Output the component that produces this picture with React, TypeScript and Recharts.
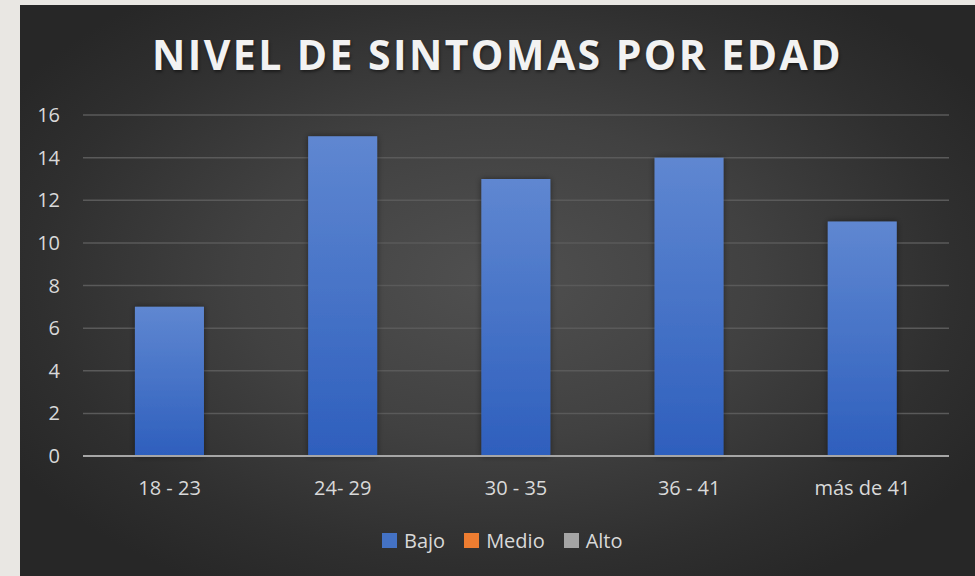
import React from 'react';
import { BarChart, Bar, XAxis, YAxis, CartesianGrid } from 'recharts';

const categories = ['18 - 23', '24- 29', '30 - 35', '36 - 41', 'más de 41'];
const bajoValues = [7, 15, 13, 14, 11];
const yTicks = [0, 2, 4, 6, 8, 10, 12, 14, 16];
const legendItems = [
  { name: 'Bajo', color: '#4472c4' },
  { name: 'Medio', color: '#ed7d31' },
  { name: 'Alto', color: '#a5a5a5' },
];

const data = categories.map((c, i) => ({ name: c, Bajo: bajoValues[i] }));

const font = '"Open Sans", sans-serif';

export default function App() {
  return (
    <div style={{ position: 'absolute', left: 0, top: 0, width: 975, height: 576, background: '#e9e7e3', overflow: 'hidden' }}>
      <div
        style={{
          position: 'absolute',
          left: 20,
          top: 5,
          width: 955,
          height: 571,
          background: 'radial-gradient(ellipse 60% 62% at 50% 48%, #505050 0%, #414141 45%, #2f2f2f 80%, #272727 100%)',
        }}
      >
        <div
          style={{
            position: 'absolute',
            top: 29,
            left: 0,
            width: 955,
            textAlign: 'center',
            fontFamily: font,
            fontWeight: 700,
            fontSize: 41,
            lineHeight: '41px',
            letterSpacing: 2.4,
            color: '#f2f2f2',
            textShadow: '1px 2px 3px rgba(0,0,0,0.45)',
          }}
        >
          NIVEL DE SINTOMAS POR EDAD
        </div>
        <BarChart
          width={955}
          height={571}
          data={data}
          margin={{ top: 110, right: 26, bottom: 90, left: 0 }}
          barCategoryGap="30%"
        >
          <defs>
            <linearGradient id="bajoGrad" x1="0" y1="0" x2="0" y2="1">
              <stop offset="0%" stopColor="#5f87d1" />
              <stop offset="100%" stopColor="#2e5fbd" />
            </linearGradient>
            <filter id="barShadow" x="-20%" y="-20%" width="140%" height="140%">
              <feDropShadow dx="0" dy="0" stdDeviation="3" floodColor="#000" floodOpacity="0.45" />
            </filter>
          </defs>
          <CartesianGrid vertical={false} stroke="#5a5a5a" strokeWidth={1.5} />
          <XAxis
            dataKey="name"
            height={30}
            axisLine={{ stroke: '#a6a6a6', strokeWidth: 2 }}
            tickLine={false}
            tickSize={0}
            tickMargin={25}
            tick={{ fill: '#d9d9d9', fontSize: 20, fontFamily: font }}
          />
          <YAxis
            width={63}
            domain={[0, 16]}
            ticks={yTicks}
            axisLine={false}
            tickLine={false}
            tickSize={0}
            tickMargin={23}
            tick={{ fill: '#d9d9d9', fontSize: 20, fontFamily: font }}
          />
          <Bar dataKey="Bajo" fill="url(#bajoGrad)" filter="url(#barShadow)" isAnimationActive={false} />
        </BarChart>
        <div
          style={{
            position: 'absolute',
            left: 362,
            top: 523,
            height: 24,
            display: 'flex',
            alignItems: 'center',
            fontFamily: font,
            fontSize: 20,
            color: '#d9d9d9',
          }}
        >
          {legendItems.map((it) => (
            <div key={it.name} style={{ display: 'flex', alignItems: 'center', marginRight: 19 }}>
              <div style={{ width: 15, height: 15, background: it.color, marginRight: 7 }} />
              <span>{it.name}</span>
            </div>
          ))}
        </div>
      </div>
    </div>
  );
}
